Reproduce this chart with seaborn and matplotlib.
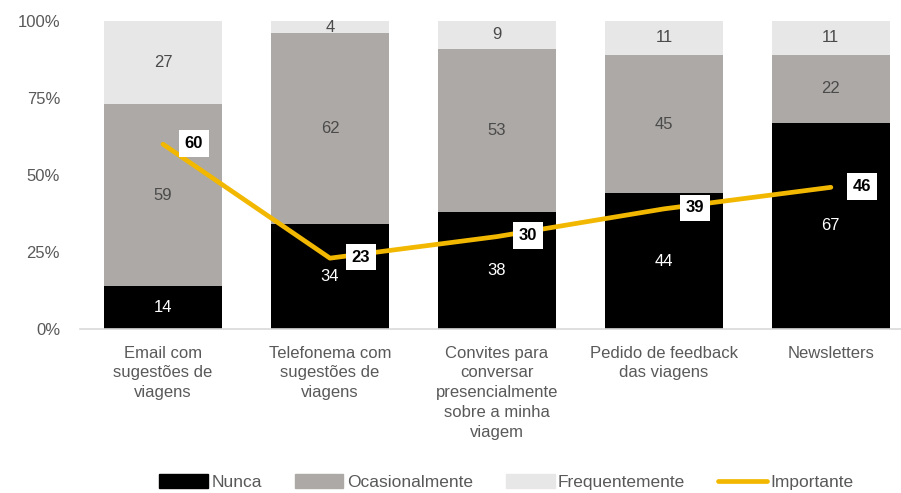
import seaborn as sns
import matplotlib.pyplot as plt
import pandas as pd
from matplotlib.patches import Patch
from matplotlib.lines import Line2D

categories = [
    "Email com\nsugestões de\nviagens",
    "Telefonema com\nsugestões de\nviagens",
    "Convites para\nconversar\npresencialmente\nsobre a minha\nviagem",
    "Pedido de feedback\ndas viagens",
    "Newsletters",
]
nunca = [14, 34, 38, 44, 67]
ocasionalmente = [59, 62, 53, 45, 22]
frequentemente = [27, 4, 9, 11, 11]
importante = [60, 23, 30, 39, 46]

col_nunca = "#000000"
col_ocas = "#ADA9A6"
col_freq = "#E7E7E7"
col_imp = "#F2B800"
txt_gray = "#595959"

sns.set_theme(style="white")
plt.rcParams["font.family"] = ["Liberation Sans", "DejaVu Sans"]

df = pd.DataFrame({
    "cat": categories,
    "Nunca": nunca,
    "Ocasionalmente": ocasionalmente,
    "Frequentemente": frequentemente,
    "Importante": importante,
})
df["base2"] = df["Nunca"] + df["Ocasionalmente"]
df["pos"] = range(len(df))

fig = plt.figure(figsize=(9.01, 4.93), dpi=100)
ax = fig.add_axes([79.5 / 901, 164 / 493, 821.5 / 901, 308 / 493])

bar_kw = dict(width=0.71, saturation=1, linewidth=0, ax=ax)
sns.barplot(data=df, x="cat", y="Nunca", color=col_nunca, **bar_kw)
sns.barplot(data=df, x="cat", y="Ocasionalmente", color=col_ocas,
            bottom=df["Nunca"], **bar_kw)
sns.barplot(data=df, x="cat", y="Frequentemente", color=col_freq,
            bottom=df["base2"], **bar_kw)

# segment labels
for i, row in df.iterrows():
    ax.text(i, row["Nunca"] / 2, str(row["Nunca"]), ha="center", va="center",
            color="white", fontsize=12)
    ax.text(i, row["Nunca"] + row["Ocasionalmente"] / 2, str(row["Ocasionalmente"]),
            ha="center", va="center", color="#4a4a4a", fontsize=12)
    ax.text(i, row["base2"] + row["Frequentemente"] / 2, str(row["Frequentemente"]),
            ha="center", va="center", color="#4a4a4a", fontsize=12)

sns.lineplot(data=df, x="pos", y="Importante", color=col_imp, linewidth=3.4,
             ax=ax, legend=False)
for i, v in enumerate(importante):
    ax.annotate(str(v), (i, v), xytext=(31, 1), textcoords="offset pixels",
                ha="center", va="center", fontsize=12, fontweight="bold",
                color="black",
                bbox=dict(boxstyle="square,pad=0.35", fc="white", ec="none"))

ax.set_xlim(-0.5, 4.42)
ax.set_ylim(0, 100)
ax.set_yticks([0, 25, 50, 75, 100])
ax.set_yticklabels(["0%", "25%", "50%", "75%", "100%"])
ax.set_xlabel("")
ax.set_ylabel("")
ax.tick_params(axis="y", colors=txt_gray, labelsize=12, length=0, pad=14)
ax.tick_params(axis="x", colors=txt_gray, labelsize=12, length=0, pad=12)
for lab in ax.get_xticklabels():
    lab.set_linespacing(1.4)
for s in ["top", "right", "left"]:
    ax.spines[s].set_visible(False)
ax.spines["bottom"].set_color("#D9D9D9")
ax.spines["bottom"].set_linewidth(1.2)

handles = [
    Patch(color=col_nunca, label="Nunca"),
    Patch(color=col_ocas, label="Ocasionalmente"),
    Patch(color=col_freq, label="Frequentemente"),
    Line2D([0], [0], color=col_imp, linewidth=3.4, label="Importante"),
]
fig.legend(handles=handles, loc="center", bbox_to_anchor=(0.562, 0.022), ncol=4,
           frameon=False, fontsize=12.5, labelcolor=txt_gray, handlelength=2.8,
           handleheight=0.9, handletextpad=0.2, columnspacing=1.9)

fig.savefig("out.png", dpi=100)
